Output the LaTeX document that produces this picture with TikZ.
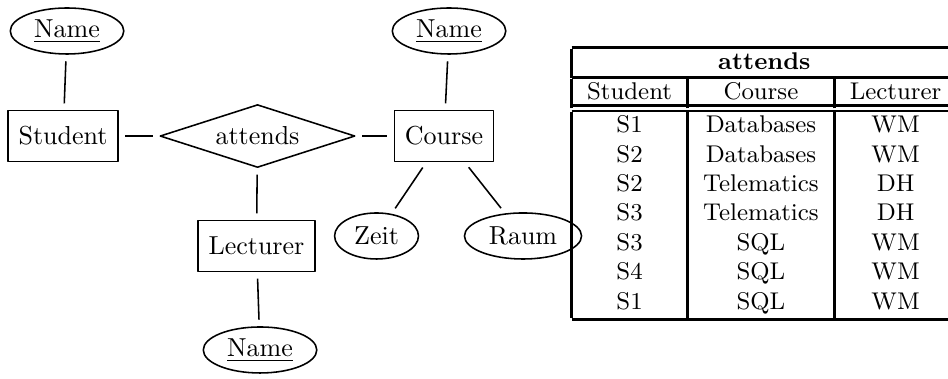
\documentclass[tikz,border=0pt]{standalone}
\usetikzlibrary{shapes.geometric}
\tikzset{
  entity/.style={draw, rectangle, inner xsep=4pt, minimum height=19.5pt},
  attrib/.style={draw, ellipse, inner xsep=2.8pt, inner ysep=0pt, minimum height=17.7pt},
  relation/.style={draw, diamond, aspect=3, inner sep=0pt, minimum width=75pt, minimum height=24.2pt},
  link/.style={shorten <=2.5pt, shorten >=2.5pt}
}
\begin{document}
\begin{tikzpicture}[line width=0.6pt, line join=round]
\useasboundingbox (0,0) rectangle (12.815,5.110);
% Entitaeten und Beziehung
\node[entity] (student) at (0.852,3.271) {Student};
\node[relation] (attends) at (3.481,3.271) {attends};
\node[entity] (course) at (6.002,3.271) {Course};
\node[entity] (lecturer) at (3.467,1.784) {Lecturer};
% Attribute
\node[attrib] (sname) at (0.906,4.691) {\underline{Name}};
\node[attrib] (cname) at (6.070,4.691) {\underline{Name}};
\node[attrib] (lname) at (3.515,0.379) {\underline{Name}};
\node[attrib] (zeit) at (5.090,1.920) {Zeit};
\node[attrib] (raum) at (7.070,1.920) {Raum};
\draw[link] (sname)--(student);
\draw[link] (cname)--(course);
\draw[link] (lecturer)--(lname);
\draw[link] (student)--(attends);
\draw[link] (attends)--(course);
\draw[link] (attends)--(lecturer);
\draw[link] (course)--(zeit);
\draw[link] (course)--(raum);
% Tabelle
\node[anchor=north west, inner sep=0pt, font=\fontsize{9.3}{11.3}\selectfont] (table) at (7.715,4.492)
{\setlength{\arrayrulewidth}{1pt}%
\begin{tabular}{|c|c|c|}\hline
\multicolumn{3}{|c|}{\textbf{attends}}\\\noalign{\vskip-0.8pt}\hline
Student & Course & Lecturer\\\noalign{\vskip-1.5pt}\hline\hline
S1 & Databases & WM\\
S2 & Databases & WM\\
S2 & Telematics & DH\\
S3 & Telematics & DH\\
S3 & SQL & WM\\
S4 & SQL & WM\\
S1 & SQL & WM\\\hline
\end{tabular}};
\end{tikzpicture}
\end{document}
